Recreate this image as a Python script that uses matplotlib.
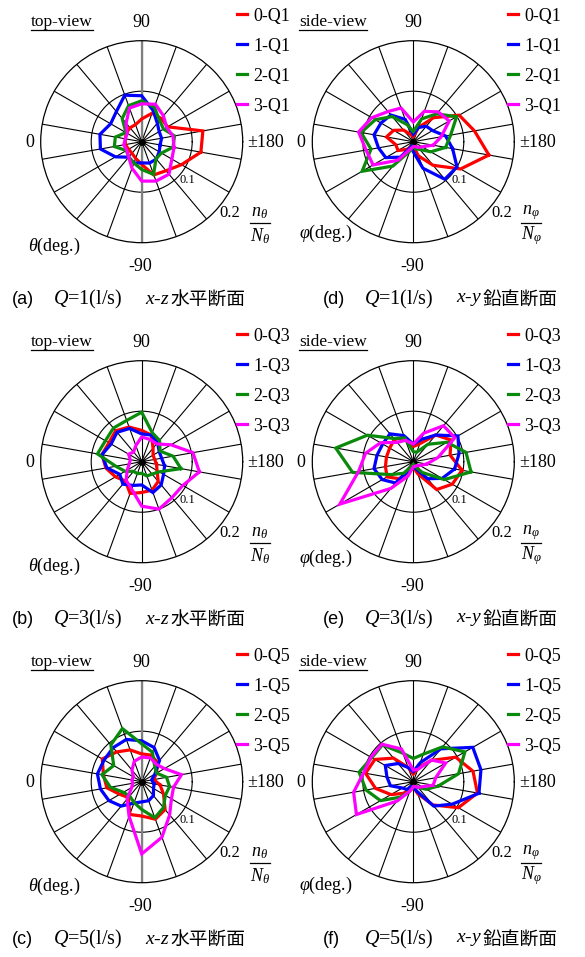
import matplotlib

matplotlib.use("Agg")
import matplotlib.pyplot as plt
import numpy as np
from matplotlib.lines import Line2D

plt.rcParams.update({
    "font.family": ["Liberation Serif", "Noto Sans CJK JP"],
    "mathtext.fontset": "custom",
    "mathtext.rm": "Liberation Serif",
    "mathtext.it": "Liberation Serif:italic",
    "mathtext.bf": "Liberation Serif:bold",
})

W, H = 585, 957  # размер картинки в пикселях (dpi = 100)

# углы бинов (град.), совпадают со спицами сетки
ANGLES = [-170, -150, -130, -110, -90, -70, -50, -30, -10,
          10, 30, 50, 70, 90, 110, 130, 150, 170]

# n/N по углам, порядок как в ANGLES
# (a) top-view, Q=1
TOP_Q1_0 = [0.119, 0.091, 0.075, 0.070, 0.045, 0.035, 0.030, 0.030, 0.033,
            0.033, 0.035, 0.036, 0.036, 0.045, 0.060, 0.060, 0.059, 0.123]
TOP_Q1_1 = [0.037, 0.040, 0.045, 0.045, 0.042, 0.045, 0.040, 0.060, 0.083,
            0.084, 0.071, 0.078, 0.098, 0.091, 0.066, 0.048, 0.040, 0.040]
TOP_Q1_2 = [0.063, 0.045, 0.044, 0.069, 0.055, 0.045, 0.040, 0.035, 0.055,
            0.053, 0.036, 0.060, 0.076, 0.081, 0.073, 0.055, 0.050, 0.066]
TOP_Q1_3 = [0.065, 0.069, 0.084, 0.083, 0.078, 0.056, 0.040, 0.034, 0.036,
            0.033, 0.033, 0.048, 0.071, 0.075, 0.079, 0.067, 0.057, 0.063]
# (d) side-view, Q=1
SIDE_Q1_0 = [0.152, 0.108, 0.061, 0.030, 0.010, 0.010, 0.020, 0.035, 0.035,
             0.054, 0.045, 0.030, 0.015, 0.010, 0.030, 0.062, 0.105, 0.123]
SIDE_Q1_1 = [0.079, 0.100, 0.097, 0.056, 0.020, 0.010, 0.040, 0.063, 0.070,
             0.079, 0.074, 0.069, 0.047, 0.015, 0.030, 0.040, 0.044, 0.065]
SIDE_Q1_2 = [0.065, 0.040, 0.020, 0.015, 0.010, 0.020, 0.063, 0.117, 0.085,
             0.105, 0.087, 0.065, 0.036, 0.020, 0.048, 0.072, 0.099, 0.075]
SIDE_Q1_3 = [0.040, 0.020, 0.015, 0.010, 0.010, 0.015, 0.048, 0.092, 0.095,
             0.110, 0.095, 0.078, 0.071, 0.039, 0.064, 0.077, 0.082, 0.056]
# (b) top-view, Q=3
TOP_Q3_0 = [0.030, 0.035, 0.051, 0.060, 0.061, 0.067, 0.050, 0.060, 0.072,
            0.080, 0.075, 0.080, 0.073, 0.062, 0.056, 0.035, 0.026, 0.026]
TOP_Q3_1 = [0.046, 0.050, 0.060, 0.065, 0.046, 0.050, 0.058, 0.050, 0.070,
            0.080, 0.070, 0.076, 0.070, 0.055, 0.056, 0.049, 0.040, 0.040]
TOP_Q3_2 = [0.079, 0.040, 0.032, 0.030, 0.023, 0.025, 0.025, 0.038, 0.052,
            0.089, 0.083, 0.087, 0.087, 0.098, 0.061, 0.055, 0.042, 0.063]
TOP_Q3_3 = [0.116, 0.094, 0.093, 0.100, 0.088, 0.058, 0.048, 0.033, 0.025,
            0.023, 0.030, 0.025, 0.034, 0.049, 0.047, 0.046, 0.067, 0.103]
# (e) side-view, Q=3
SIDE_Q3_0 = [0.098, 0.089, 0.072, 0.025, 0.010, 0.020, 0.044, 0.060, 0.056,
             0.054, 0.054, 0.058, 0.050, 0.030, 0.038, 0.069, 0.086, 0.074]
SIDE_Q3_1 = [0.083, 0.066, 0.044, 0.015, 0.010, 0.015, 0.055, 0.071, 0.079,
             0.073, 0.070, 0.072, 0.055, 0.035, 0.047, 0.069, 0.102, 0.092]
SIDE_Q3_2 = [0.116, 0.071, 0.028, 0.010, 0.005, 0.010, 0.030, 0.051, 0.122,
             0.156, 0.105, 0.060, 0.050, 0.020, 0.020, 0.045, 0.077, 0.106]
SIDE_Q3_3 = [0.027, 0.015, 0.010, 0.010, 0.010, 0.030, 0.069, 0.168, 0.110,
             0.096, 0.075, 0.050, 0.045, 0.035, 0.060, 0.093, 0.095, 0.050]
# (c) top-view, Q=5
TOP_Q5_0 = [0.037, 0.050, 0.072, 0.079, 0.068, 0.069, 0.041, 0.050, 0.070,
            0.077, 0.090, 0.077, 0.067, 0.055, 0.056, 0.049, 0.034, 0.024]
TOP_Q5_1 = [0.025, 0.027, 0.036, 0.040, 0.040, 0.045, 0.063, 0.075, 0.083,
            0.089, 0.086, 0.088, 0.089, 0.081, 0.072, 0.055, 0.030, 0.020]
TOP_Q5_2 = [0.056, 0.054, 0.067, 0.076, 0.055, 0.044, 0.037, 0.042, 0.063,
            0.080, 0.064, 0.095, 0.112, 0.075, 0.062, 0.040, 0.034, 0.050]
TOP_Q5_3 = [0.064, 0.068, 0.086, 0.117, 0.143, 0.073, 0.045, 0.023, 0.018,
            0.020, 0.019, 0.030, 0.043, 0.049, 0.050, 0.045, 0.052, 0.080]
# (f) side-view, Q=5
SIDE_Q5_0 = [0.129, 0.103, 0.060, 0.025, 0.010, 0.015, 0.030, 0.051, 0.076,
             0.096, 0.088, 0.061, 0.030, 0.015, 0.030, 0.055, 0.097, 0.120]
SIDE_Q5_1 = [0.132, 0.089, 0.063, 0.020, 0.010, 0.010, 0.020, 0.025, 0.046,
             0.053, 0.064, 0.047, 0.030, 0.020, 0.040, 0.085, 0.136, 0.136]
SIDE_Q5_2 = [0.050, 0.030, 0.015, 0.010, 0.010, 0.020, 0.040, 0.075, 0.095,
             0.109, 0.095, 0.095, 0.060, 0.046, 0.058, 0.090, 0.118, 0.091]
SIDE_Q5_3 = [0.040, 0.020, 0.015, 0.010, 0.010, 0.020, 0.050, 0.130, 0.120,
             0.100, 0.097, 0.097, 0.069, 0.023, 0.026, 0.056, 0.074, 0.045]

COLORS = ["#ff0000", "#0000ff", "#0a8a0a", "#ff00ff"]
R_MAX = 0.2

fig = plt.figure(figsize=(W / 100, H / 100), dpi=100)
renderer = fig.canvas.get_renderer()


def ftext(x, y, s, **kw):
    """Текст в пиксельных координатах картинки (y сверху вниз)."""
    return fig.text(x / W, 1 - y / H, s, **kw)


def fline(x0, x1, y, lw=0.9):
    """Горизонтальная линия в пикселях картинки."""
    fig.add_artist(Line2D([x0 / W, x1 / W], [1 - y / H, 1 - y / H],
                          transform=fig.transFigure, color="black", lw=lw))


def underline(t):
    bb = t.get_window_extent(renderer)
    fline(bb.x0, bb.x1, H - bb.y0 + 0.5)


def polar_panel(cx, cy, series, q, view, sym, gray_axis, deg_dy):
    rad = 101  # радиус внешней окружности, px
    ax = fig.add_axes([(cx - rad) / W, 1 - (cy + rad) / H, 2 * rad / W, 2 * rad / H],
                      projection="polar")
    ax.set_theta_zero_location("W")
    ax.set_theta_direction(-1)

    if gray_axis:
        for a in (90, -90):
            ax.plot([np.deg2rad(a)] * 2, [0, R_MAX], color="#808080", lw=1.6, zorder=2)
    ax.plot(0, 0, "o", color="black", ms=4, zorder=3)

    th = np.deg2rad(ANGLES + ANGLES[:1])
    for i, vals in enumerate(series):
        r = list(vals) + [vals[0]]
        ax.plot(th, r, color=COLORS[i], lw=2.3, label=f"{i}-Q{q}", zorder=4,
                solid_joinstyle="miter")

    ax.set_thetamin(-180)
    ax.set_thetamax(180)
    ax.set_ylim(0, R_MAX)
    ax.set_xticks(np.deg2rad(ANGLES))
    ax.set_xticklabels([])
    ax.set_yticks([0.1])
    ax.set_yticklabels([])
    ax.grid(True, color="black", lw=0.8)
    ax.spines["polar"].set_linewidth(0.9)
    ax.tick_params(length=0)

    ax.legend(loc="upper left", bbox_to_anchor=((cx + 95) / W, 1 - (cy - 134) / H),
              bbox_transform=fig.transFigure, frameon=False, handlelength=0.55,
              handletextpad=0.35, labelspacing=0.72, borderpad=0, borderaxespad=0,
              prop={"family": "Liberation Serif", "size": 13})

    t = ftext(cx - 80, cy - 120, view, ha="center", va="center", fontsize=12.5)
    underline(t)
    ftext(cx, cy - 119, "90", ha="center", va="center", fontsize=13)
    ftext(cx - 112, cy + 1, "0", ha="center", va="center", fontsize=13)
    ftext(cx + 106, cy + 1, "±180", ha="left", va="center", fontsize=13)
    ftext(cx - 1, cy + 125, "-90", ha="center", va="center", fontsize=13)
    ftext(cx + 46, cy + 38, "0.1", ha="center", va="center", fontsize=9)
    ftext(cx + 88, cy + 71, "0.2", ha="center", va="center", fontsize=12)
    # дробь n/N вручную: числитель, черта, знаменатель
    ftext(cx + 118, cy + 71, r"$n_{%s}$" % sym, ha="center", va="center", fontsize=13)
    fline(cx + 108, cx + 128, cy + 81)
    ftext(cx + 118, cy + 94, r"$N_{%s}$" % sym, ha="center", va="center", fontsize=13)
    ftext(cx - 87, cy + deg_dy, r"$%s$(deg.)" % sym, ha="center", va="center",
          fontsize=13)


def caption(x0, y, letter, q, axes_name, plane):
    ftext(x0, y, letter, ha="left", va="center", fontsize=13,
          family="Liberation Sans")
    ftext(x0 + 41, y, r"$Q$=%d(l/s)" % q, ha="left", va="center", fontsize=14.5)
    t = ftext(x0 + 133, y, axes_name, ha="left", va="center", fontsize=14)
    x1 = t.get_window_extent(renderer).x1
    ftext(x1 + 1, y, plane, ha="left", va="center", fontsize=13.5,
          family="Noto Sans CJK JP")


rows = [
    (141.7, (TOP_Q1_0, TOP_Q1_1, TOP_Q1_2, TOP_Q1_3),
     (SIDE_Q1_0, SIDE_Q1_1, SIDE_Q1_2, SIDE_Q1_3), 1, "(a)", "(d)", True, 92),
    (461.7, (TOP_Q3_0, TOP_Q3_1, TOP_Q3_2, TOP_Q3_3),
     (SIDE_Q3_0, SIDE_Q3_1, SIDE_Q3_2, SIDE_Q3_3), 3, "(b)", "(e)", False, 97),
    (781.7, (TOP_Q5_0, TOP_Q5_1, TOP_Q5_2, TOP_Q5_3),
     (SIDE_Q5_0, SIDE_Q5_1, SIDE_Q5_2, SIDE_Q5_3), 5, "(c)", "(f)", True, 104),
]

for cy, top, side, q, lt, ls, gray, side_dy in rows:
    polar_panel(141.7, cy, top, q, "top-view", r"\theta", gray, 105)
    polar_panel(413.3, cy, side, q, "side-view", r"\varphi", False, side_dy)
    caption(12, cy + 158, lt, q, r"$x$-$z$", "水平断面")
    caption(323, cy + 158, ls, q, r"$x$-$y$", "鉛直断面")

fig.savefig("out.png", dpi=100)
